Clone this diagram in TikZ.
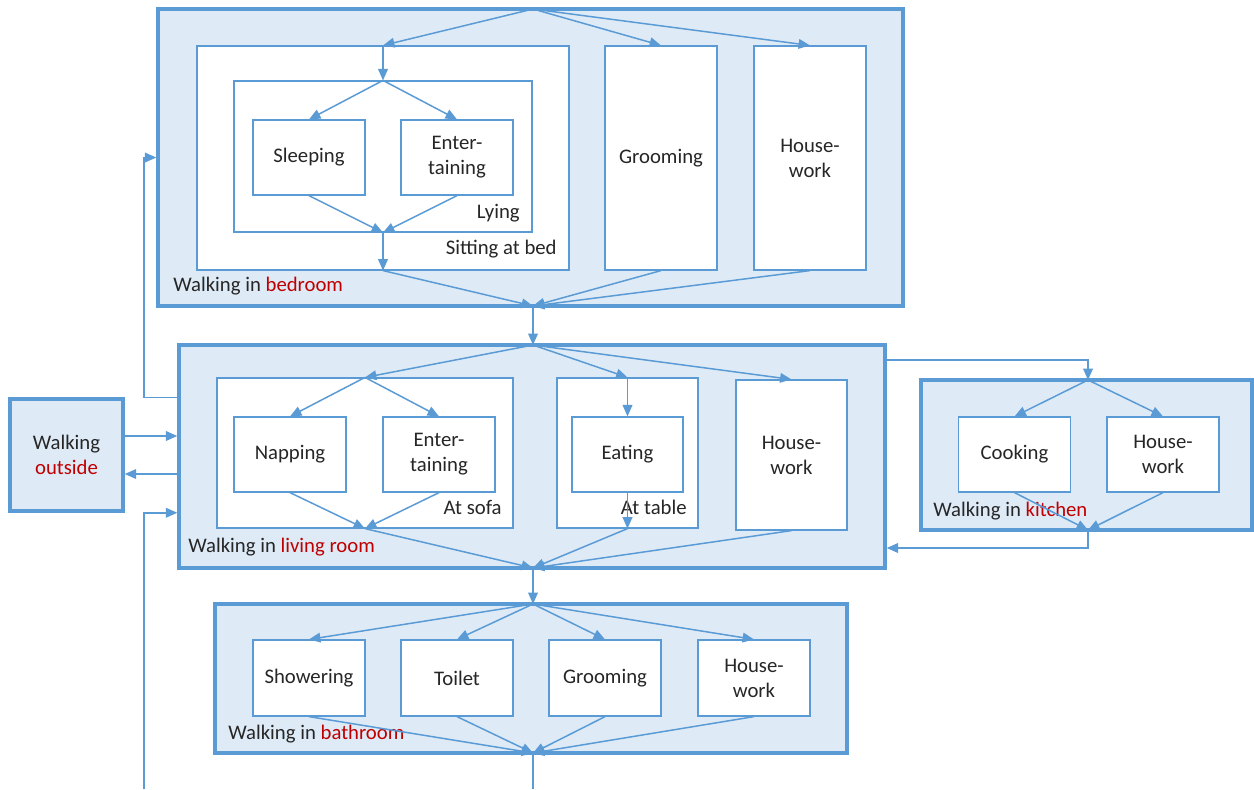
\documentclass[tikz,border=0pt]{standalone}
\usepackage{fontspec}
\setmainfont{Carlito}
\usetikzlibrary{positioning,calc,arrows.meta}
\definecolor{boxblue}{RGB}{91,155,213}
\definecolor{roomfill}{RGB}{222,235,247}
\definecolor{roomred}{RGB}{192,0,0}
\definecolor{txtgray}{RGB}{38,38,38}
\newcommand{\roomname}[1]{\textcolor{roomred}{#1}}
\tikzset{
  room/.style={draw=boxblue, fill=roomfill, line width=2pt, inner sep=0pt},
  zone/.style={draw=boxblue, fill=white, line width=0.7pt, inner sep=0pt},
  act/.style={zone, minimum width=2.24cm, minimum height=1.5cm, align=center},
  tag/.style={inner sep=0pt, text=txtgray},
  flow/.style={->, draw=boxblue, line width=0.85pt}
}

\begin{document}
\begin{tikzpicture}[x=0.02cm, y=-0.02cm, >={Triangle[length=6.5pt,width=5.5pt]}, font=\fontsize{11.8}{14.2}\selectfont, text=txtgray]
    \useasboundingbox (0,0) rectangle (1254,789);

    % bedroom
    \node[room, minimum width=14.9cm, minimum height=5.94cm] (bed) at (530.5,157.5) {};
    \node[zone, minimum width=7.44cm, minimum height=4.48cm] (sitbed) at (383,158) {};
    \node[zone, minimum width=5.96cm, minimum height=3.02cm] (lying) at (383,156.5) {};
    \node[act] (sleep) at (309,157.5) {Sleeping};
    \node[act] (entbed) at (457,157.5) {Enter-\\taining};
    \node[act, minimum height=4.48cm] (groombed) at (661,158) {Grooming};
    \node[act, minimum height=4.48cm] (housebed) at (810,158) {House-\\work};
    \node[tag, anchor=base east] (lyingtag) at (520,218) {Lying};
    \node[tag, anchor=base east] (sittag) at (557,254) {Sitting at bed};
    \node[tag, anchor=base west] (bedtag) at (173,291) {Walking in \roomname{bedroom}};

    \coordinate (bedin) at (533,9);
    \coordinate (bedout) at (533,306);
    \foreach \t in {sitbed,groombed,housebed}{
        \draw[flow] (bedin) -- (\t.north);
        \draw[flow] (\t.south) -- (bedout);
    }
    \draw[flow] (sitbed.north) -- (lying.north);
    \foreach \t in {sleep,entbed}{
        \draw[flow] (lying.north) -- (\t.north);
        \draw[flow] (\t.south) -- (lying.south);
    }
    \draw[flow] (lying.south) -- (sitbed.south);

    % living room
    \node[room, minimum width=14.12cm, minimum height=4.46cm] (liv) at (532,456.5) {};
    \node[zone, minimum width=5.92cm, minimum height=3cm] (sofa) at (365,453) {};
    \node[act] (nap) at (290,454.5) {Napping};
    \node[act] (entliv) at (439,454.5) {Enter-\\taining};
    \node[zone, minimum width=2.82cm, minimum height=3cm] (table) at (627.5,453) {};
    \node[act, minimum width=2.22cm] (eat) at (627.5,454.5) {Eating};
    \node[act, minimum width=2.22cm, minimum height=3cm] (houseliv) at (791.5,455) {House-\\work};
    \node[tag, anchor=base east] (sofatag) at (502,514) {At sofa};
    \node[tag, anchor=base east] (tabletag) at (687,514) {At table};
    \node[tag, anchor=base west] (livtag) at (188,552) {Walking in \roomname{living room}};

    \coordinate (livin) at (533,345);
    \coordinate (livout) at (533,568);
    \draw[flow] (bedout) -- (livin);
    \foreach \t in {sofa,table,houseliv}{
        \draw[flow] (livin) -- (\t.north);
        \draw[flow] (\t.south) -- (livout);
    }
    \foreach \t in {nap,entliv}{
        \draw[flow] (sofa.north) -- (\t.north);
        \draw[flow] (\t.south) -- (sofa.south);
    }
    \draw[flow] (table.north) -- (eat.north);
    \draw[flow] (eat.south) -- (table.south);

    % kitchen
    \node[room, minimum width=6.62cm, minimum height=3cm] (kit) at (1086.5,455) {};
    \node[act] (cook) at (1014.5,454.5) {Cooking};
    \node[act] (housekit) at (1163,454.5) {House-\\work};
    \node[tag, anchor=base west] (kittag) at (933,516) {Walking in \roomname{kitchen}};

    \coordinate (kitin) at (1088,380);
    \coordinate (kitout) at (1088,530);
    \draw[flow] (liv.east |- 0,360) -| (kitin);
    \foreach \t in {cook,housekit}{
        \draw[flow] (kitin) -- (\t.north);
        \draw[flow] (\t.south) -- (kitout);
    }
    \draw[flow] (kitout) |- (liv.east |- 0,548);

    % outside
    \node[room, minimum width=2.26cm, minimum height=2.24cm, align=center] (out) at (66.5,455) {Walking\\\roomname{outside}};
    \coordinate (loopx) at (144,789);
    \draw[flow] (out.east |- 0,436) -- (liv.west |- 0,436);
    \draw[flow] (liv.west |- 0,474) -- (out.east |- 0,474);
    \draw[flow] (liv.west |- out.north) -- (loopx |- out.north) |- (bed.west);
    \draw[flow] (loopx) |- (liv.west |- out.south);

    % bathroom
    \node[room, minimum width=12.64cm, minimum height=2.98cm] (bath) at (531,678.5) {};
    \node[act, minimum height=1.52cm] (shower) at (309,678) {Showering};
    \node[act, minimum height=1.52cm] (toilet) at (457,678) {Toilet};
    \node[act, minimum height=1.52cm] (groombath) at (605,678) {Grooming};
    \node[act, minimum height=1.52cm] (housebath) at (754,678) {House-\\work};
    \node[tag, anchor=base west] (bathtag) at (228,739) {Walking in \roomname{bathroom}};

    \coordinate (bathin) at (533,604);
    \coordinate (bathout) at (533,753);
    \coordinate (exit) at (533,789);
    \draw[flow] (livout) -- (bathin);
    \foreach \t in {shower,toilet,groombath,housebath}{
        \draw[flow] (bathin) -- (\t.north);
        \draw[flow] (\t.south) -- (bathout);
    }
    \draw[draw=boxblue, line width=0.85pt] (bathout) -- (exit);

\end{tikzpicture}
\end{document}
